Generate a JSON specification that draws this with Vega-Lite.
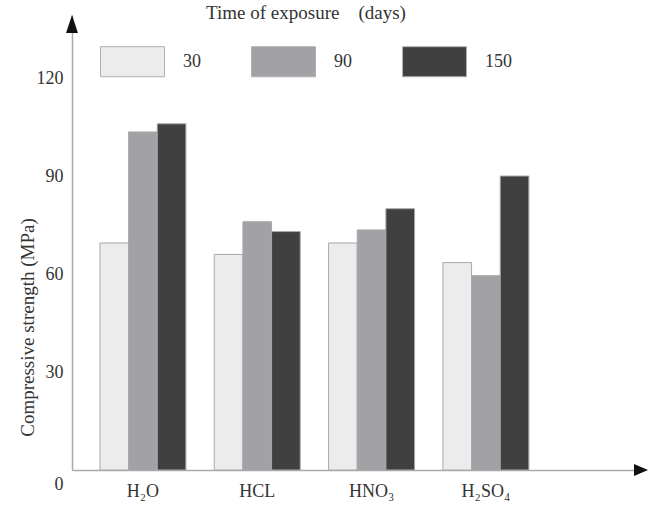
{
  "$schema": "https://vega.github.io/schema/vega-lite/v6.json",
  "autosize": {"type": "none"},
  "padding": {"left": 72, "top": 15, "right": 15, "bottom": 38},
  "width": 562,
  "height": 455,
  "config": {
    "font": "Liberation Serif",
    "view": {"stroke": null},
    "axis": {"labelFont": "Liberation Serif", "titleFont": "Liberation Serif", "labelColor": "#333", "titleColor": "#333", "titleFontWeight": "normal"},
    "legend": {"labelFont": "Liberation Serif", "titleFont": "Liberation Serif"}
  },
  "encoding": {
    "y": {
      "field": "v",
      "type": "quantitative",
      "scale": {"domain": [0, 139.3], "nice": false, "zero": true},
      "axis": {
        "title": "Compressive strength (MPa)",
        "titleFontSize": 19,
        "titleLetterSpacing": 2.5,
        "titleLimit": 400,
        "titleX": -35,
        "titleY": 312,
        "titleBaseline": "bottom",
        "titleAngle": -90,
        "values": [0, 30, 60, 90, 120],
        "grid": false,
        "ticks": false,
        "labelFontSize": 18,
        "labelPadding": 9,
        "labelOffset": {"condition": {"test": "datum.value === 0", "value": 14}, "value": 0},
        "domainColor": "#aaaaaa",
        "domainWidth": 1.5
      }
    }
  },
  "layer": [
    {
      "data": {
        "values": [
          {"cat": "H₂O", "days": "30", "v": 69.5},
          {"cat": "H₂O", "days": "90", "v": 103.5},
          {"cat": "H₂O", "days": "150", "v": 106},
          {"cat": "HCL", "days": "30", "v": 66},
          {"cat": "HCL", "days": "90", "v": 76},
          {"cat": "HCL", "days": "150", "v": 73},
          {"cat": "HNO₃", "days": "30", "v": 69.5},
          {"cat": "HNO₃", "days": "90", "v": 73.5},
          {"cat": "HNO₃", "days": "150", "v": 80},
          {"cat": "H₂SO₄", "days": "30", "v": 63.5},
          {"cat": "H₂SO₄", "days": "90", "v": 59.5},
          {"cat": "H₂SO₄", "days": "150", "v": 90}
        ]
      },
      "mark": {"type": "bar", "stroke": "#a8a8a8", "strokeWidth": 1},
      "encoding": {
        "x": {
          "field": "cat",
          "type": "nominal",
          "sort": ["H₂O", "HCL", "HNO₃", "H₂SO₄"],
          "scale": {"paddingInner": 0.248, "paddingOuter": 0.582, "align": 0.21},
          "axis": {"title": null, "labelAngle": 0, "ticks": false, "labelFontSize": 18, "labelPadding": 12, "domainColor": "#aaaaaa", "domainWidth": 1.5}
        },
        "xOffset": {"field": "days", "type": "nominal", "sort": ["30", "90", "150"], "scale": {"paddingInner": 0, "paddingOuter": 0}},
        "fill": {
          "field": "days",
          "type": "nominal",
          "sort": ["30", "90", "150"],
          "scale": {"domain": ["30", "90", "150"], "range": ["#ececec", "#a2a2a6", "#404040"]},
          "legend": {
            "title": "Time of exposure\u00a0\u00a0\u00a0\u00a0(days)",
            "titleLimit": 500,
            "orient": "none",
            "legendX": 28,
            "legendY": -11,
            "direction": "horizontal",
            "columns": 3,
            "padding": 0,
            "titleFontSize": 19,
            "titleFontWeight": "normal",
            "titleColor": "#333",
            "titleAnchor": "middle",
            "titlePadding": 6,
            "labelFontSize": 18,
            "labelColor": "#333",
            "labelOffset": 18,
            "columnPadding": 48,
            "symbolType": "M-1,-0.47H1V0.47H-1Z",
            "symbolSize": 4096,
            "symbolStrokeColor": "#b0b0b0",
            "symbolStrokeWidth": 1,
            "symbolOpacity": 1
          }
        }
      }
    },
    {
      "data": {
        "values": [
          {"ax": 0, "v": 139.3, "dir": "up"},
          {"ax": 1, "v": 0, "dir": "right"}
        ]
      },
      "mark": {"type": "point", "filled": true, "opacity": 1, "color": "#111111", "size": 1296, "strokeWidth": 0},
      "encoding": {
        "x": {"field": "ax", "type": "quantitative", "scale": {"domain": [0, 1], "nice": false, "zero": false}, "axis": null},
        "shape": {
          "field": "dir",
          "type": "nominal",
          "scale": {"domain": ["up", "right"], "range": ["M0,0L0.33,1L-0.33,1Z", "M0,-0.33L0.78,0L0,0.33Z"]},
          "legend": null
        }
      }
    }
  ],
  "resolve": {"scale": {"x": "independent"}}
}
